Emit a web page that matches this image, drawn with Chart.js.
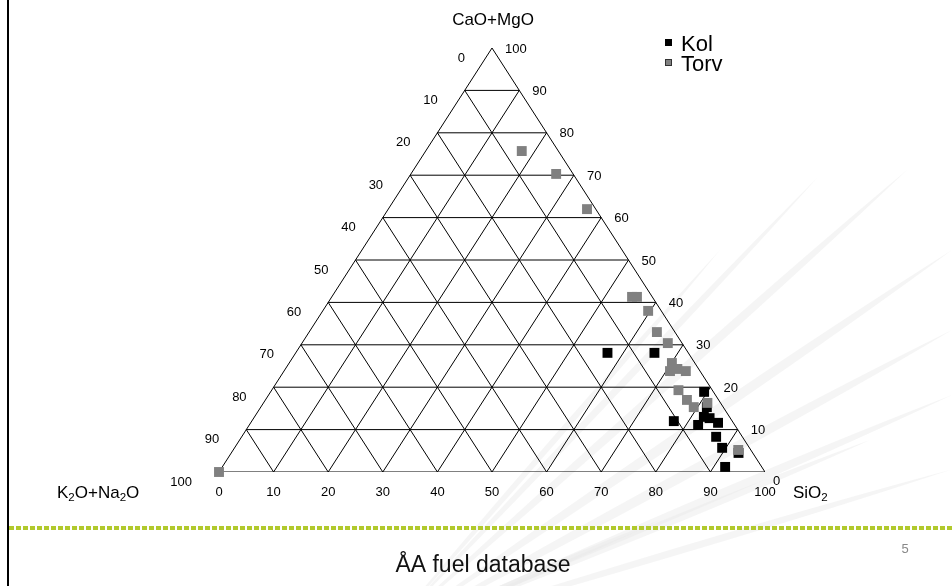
<!DOCTYPE html>
<html>
<head>
<meta charset="utf-8">
<script src="https://cdn.jsdelivr.net/npm/chart.js@4/dist/chart.umd.min.js"></script>
<style>
  html, body { margin: 0; padding: 0; background: #fff; }
  #wrap { position: relative; width: 952px; height: 586px; }
</style>
</head>
<body>
<div id="wrap"><canvas id="chart"></canvas></div>
<script>
// ternary ticks, in percent
const tickValues = [0, 10, 20, 30, 40, 50, 60, 70, 80, 90, 100];

// Kol (coal) - SiO2 and CaO+MgO, K2O+Na2O is the rest
const kolSiO2 = [57.1, 65.7, 79.4, 77.3, 82.3, 83.5, 82.2, 85.6, 86.9, 89.3, 92.1, 92.9, 81.7];
const kolCaO  = [28.1, 28.1, 18.9, 12.0, 13.0, 12.7, 11.1, 11.6, 8.3, 5.7, 1.2, 4.5, 15.3];

// Torv (peat)
const torvSiO2 = [17.6, 26.6, 36.4, 55.0, 55.9, 59.6, 63.7, 67.0, 70.1, 70.7, 71.8, 73.6, 74.5, 77.2, 79.3, 81.3, 92.5, 0];
const torvCaO  = [75.7, 70.3, 62.0, 41.3, 41.3, 38.0, 33.0, 30.4, 25.7, 23.8, 24.3, 23.8, 19.3, 17.0, 15.3, 16.3, 5.2, 0];

const seriesNames = ["Kol", "Torv"];
const seriesColors = ["#000000", "#808080"];

// ternary -> plain x/y (x = SiO2 + CaO/2, y = CaO)
function toXY(s, c) {
    return {x: s + c / 2, y: c};
}

function seriesPoints(sArr, cArr) {
    return sArr.map((s, i) => toXY(s, cArr[i]));
}

function gridLine(a, b) {
    return {
        type: 'scatter',
        data: [a, b],
        showLine: true,
        borderColor: '#000',
        borderWidth: 1,
        pointRadius: 0,
        pointHoverRadius: 0,
        order: 10
    };
}

var gridSets = [];
// outline
gridSets.push(gridLine(toXY(0, 0), toXY(100, 0)));
gridSets.push(gridLine(toXY(100, 0), toXY(0, 100)));
gridSets.push(gridLine(toXY(0, 100), toXY(0, 0)));
tickValues.slice(1, -1).forEach((t) => {
    gridSets.push(gridLine(toXY(0, t), toXY(100 - t, t)));      // CaO+MgO const
    gridSets.push(gridLine(toXY(t, 0), toXY(t, 100 - t)));      // SiO2 const
    gridSets.push(gridLine(toXY(100 - t, 0), toXY(0, 100 - t))); // K2O+Na2O const
});

// text with _2 style subscripts
function drawChem(ctx, str, x, y, size) {
    var cx = x;
    for (var i = 0; i < str.length; i++) {
        var ch = str[i];
        if (ch === '_') {
            i++;
            ctx.font = (size * 0.68) + 'px "Liberation Sans", Arial';
            ctx.fillText(str[i], cx, y + size * 0.3);
            cx += ctx.measureText(str[i]).width;
        } else {
            ctx.font = size + 'px "Liberation Sans", Arial';
            ctx.fillText(ch, cx, y);
            cx += ctx.measureText(ch).width;
        }
    }
}

// faint template swooshes (decoration of the slide)
function wedge(ctx, ox, oy, tx, ty, w) {
    var dx = tx - ox, dy = ty - oy;
    var len = Math.sqrt(dx * dx + dy * dy);
    var nx = -dy / len, ny = dx / len;
    var mx = ox + dx * 0.6, my = oy + dy * 0.6;
    ctx.beginPath();
    ctx.moveTo(ox, oy);
    ctx.quadraticCurveTo(mx + nx * w, my + ny * w, tx, ty);
    ctx.quadraticCurveTo(mx - nx * w, my - ny * w, ox, oy);
    ctx.fill();
}

const slidePlugin = {
    id: 'slide',
    beforeDraw(chart) {
        const ctx = chart.ctx;
        ctx.save();
        ctx.fillStyle = '#fff';
        ctx.fillRect(0, 0, chart.width, chart.height);
        ctx.fillStyle = 'rgba(232,232,232,0.45)';
        [[907, 170, 9], [817, 178, 7], [952, 250, 10], [952, 330, 10], [952, 395, 9],
         [870, 440, 8], [720, 250, 6], [950, 470, 7], [660, 520, 6]].forEach((r) => {
            wedge(ctx, 380, 640, r[0], r[1], r[2]);
        });
        ctx.restore();
    },
    afterDraw(chart) {
        const ctx = chart.ctx;
        const xs = chart.scales.x, ys = chart.scales.y;
        const px = (p) => [xs.getPixelForValue(p.x), ys.getPixelForValue(p.y)];
        ctx.save();
        ctx.fillStyle = '#000';
        ctx.font = '13px "Liberation Sans", Arial';
        ctx.textBaseline = 'middle';
        tickValues.forEach((t) => {
            // bottom: SiO2
            var b = px(toXY(t, 0));
            ctx.textAlign = 'center';
            ctx.fillText(String(t), b[0], b[1] + 20);
            // right: CaO+MgO
            var r = px(toXY(100 - t, t));
            ctx.textAlign = 'left';
            ctx.fillText(String(t), r[0] + (t === 0 ? 8 : 13), r[1] + (t === 0 ? 9 : 1));
            // left: K2O+Na2O
            var l = px(toXY(0, 100 - t));
            ctx.textAlign = 'right';
            ctx.fillText(String(t), l[0] - 27, l[1] + 10);
        });

        // corner names
        ctx.textAlign = 'center';
        ctx.font = '17px "Liberation Sans", Arial';
        ctx.fillText('CaO+MgO', 493, 20);
        ctx.textAlign = 'left';
        drawChem(ctx, 'K_2O+Na_2O', 57, 493, 17);
        drawChem(ctx, 'SiO_2', 793, 493, 17);

        // legend
        chart.data.datasets.slice(0, 2).forEach((ds, i) => {
            var ly = 44 + i * 20;
            ctx.fillStyle = ds.backgroundColor;
            ctx.fillRect(665, ly - 5, 7, 7);
            if (i === 1) {
                ctx.strokeStyle = '#333';
                ctx.lineWidth = 1;
                ctx.strokeRect(665.5, ly - 4.5, 6, 6);
            }
            ctx.fillStyle = '#000';
            ctx.font = '22px "Liberation Sans", Arial';
            ctx.textAlign = 'left';
            ctx.fillText(ds.label, 681, ly + 1);
        });

        // slide frame
        ctx.fillStyle = '#000';
        ctx.fillRect(7, 0, 2, chart.height);
        ctx.strokeStyle = '#b1c92c';
        ctx.lineWidth = 4;
        ctx.setLineDash([5, 2]);
        ctx.beginPath();
        ctx.moveTo(9, 528);
        ctx.lineTo(952, 528);
        ctx.stroke();
        ctx.setLineDash([]);

        ctx.fillStyle = '#111';
        ctx.font = '23px "Liberation Sans", Arial';
        ctx.textAlign = 'center';
        ctx.fillText('ÅA fuel database', 483, 566);
        ctx.fillStyle = '#888';
        ctx.font = '13px "Liberation Sans", Arial';
        ctx.fillText('5', 905, 549);
        ctx.restore();
    }
};

const context = document.getElementById('chart').getContext('2d');
const chart = new Chart(context, {
    type: 'scatter',
    data: {
        datasets: [
            {
                label: seriesNames[0],
                data: seriesPoints(kolSiO2, kolCaO),
                backgroundColor: seriesColors[0],
                borderColor: seriesColors[0],
                pointStyle: 'rect',
                pointRadius: 7,
                borderWidth: 0,
                clip: false,
                order: 2
            },
            {
                label: seriesNames[1],
                data: seriesPoints(torvSiO2, torvCaO),
                backgroundColor: seriesColors[1],
                borderColor: seriesColors[1],
                pointStyle: 'rect',
                pointRadius: 7,
                borderWidth: 0,
                clip: false,
                order: 1
            },
            ...gridSets
        ]
    },
    options: {
        responsive: true,
        maintainAspectRatio: false,
        animation: false,
        layout: {
            padding: {left: 219, right: 187, top: 48, bottom: 114}
        },
        scales: {
            x: {type: 'linear', min: 0, max: 100, display: false},
            y: {type: 'linear', min: 0, max: 100, display: false}
        },
        plugins: {
            legend: {display: false},
            tooltip: {enabled: false}
        }
    },
    plugins: [slidePlugin]
});
</script>
</body>
</html>
